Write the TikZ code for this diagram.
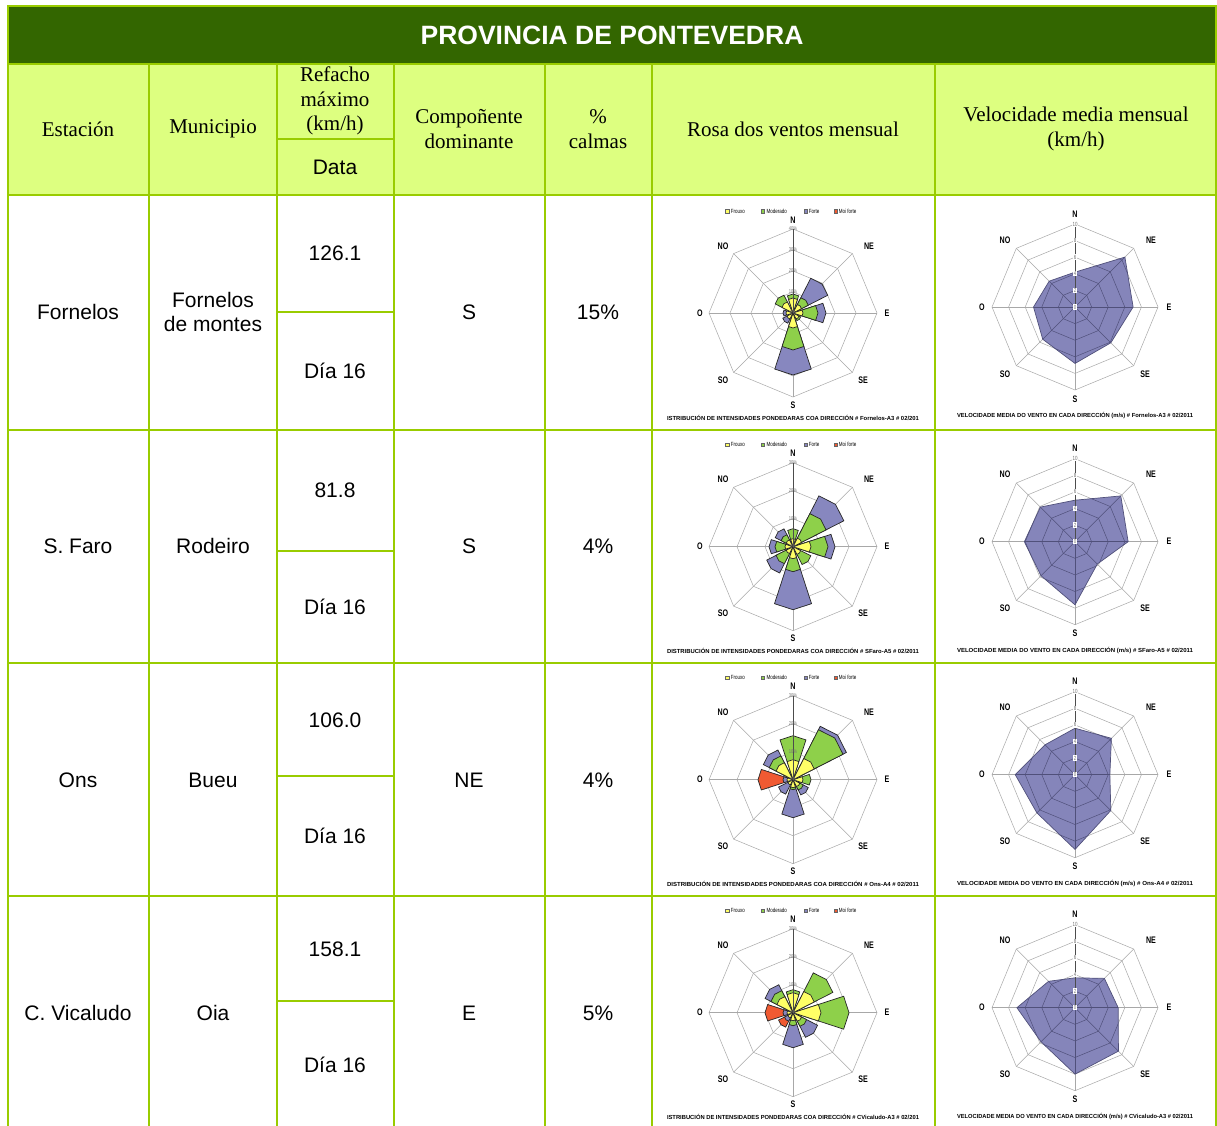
\documentclass[tikz,border=0pt]{standalone}
\usepackage{fontspec}
\usepackage{graphicx}
\setmainfont{Liberation Serif}
\newfontfamily\arial{Liberation Sans}
\definecolor{tblline}{HTML}{99CC00}
\definecolor{hdrdark}{HTML}{336600}
\definecolor{hdrfill}{HTML}{DDFF80}
\definecolor{yelc}{HTML}{FFFF66}
\definecolor{grnc}{HTML}{8ED04A}
\definecolor{purc}{HTML}{8787BF}
\definecolor{redc}{HTML}{F05A32}
\definecolor{polyc}{HTML}{8585BA}
\definecolor{gridc}{HTML}{A8A8A8}
\definecolor{innerc}{HTML}{50507A}
\tikzset{
  rule/.style={draw=tblline,line width=2pt},
  body/.style={font=\arial\fontsize{21}{24}\selectfont,align=center,inner sep=0pt},
  head/.style={font=\fontsize{21}{24.5}\selectfont,align=center,inner sep=0pt},
  gridl/.style={draw=gridc,line width=0.5pt},
  innergrid/.style={draw=innerc,line width=0.5pt},
  wedgeline/.style={draw=black!85,line width=0.7pt},
  dirlab/.style={font=\arial\bfseries\fontsize{9.5}{10}\selectfont,inner sep=0pt},
  ringlab/.style={font=\arial\fontsize{5.5}{6}\selectfont,text=black!55,inner sep=0.3pt},
  vallab/.style={font=\arial\fontsize{6}{6}\selectfont,text=black!55,fill=white,inner sep=0.6pt},
  legtext/.style={font=\arial\fontsize{6}{6}\selectfont,anchor=west,inner sep=0pt},
  chartcap/.style={font=\arial\bfseries,inner sep=0pt},
}
\newcommand\cond[1]{\scalebox{0.75}[1]{#1}}
\newcommand\octagon[2][]{\draw[#1] (0:#2pt) -- (45:#2pt) -- (90:#2pt) -- (135:#2pt) -- (180:#2pt) -- (225:#2pt) -- (270:#2pt) -- (315:#2pt) -- cycle;}
% ---------- wind rose ----------
\newcommand\rosebase[1]{%
  \foreach \k in {1,...,#1}{\pgfmathsetmacro\myR{84*\k/#1}\octagon[gridl]{\myR}}
  \foreach \a in {0,45,...,315}{\draw[gridl] (0,0) -- (\a:84pt);}
}
\newcommand\rosewedge[3]{\filldraw[fill=#3,wedgeline] (0,0) -- ({#1-18}:{#2*0.951pt}) -- (#1:{#2pt}) -- ({#1+18}:{#2*0.951pt}) -- cycle;}
\newcommand\rosedir[5]{%
  \ifdim #5pt>0pt \rosewedge{#1}{#5}{redc}\fi
  \ifdim #4pt>0pt \rosewedge{#1}{#4}{purc}\fi
  \ifdim #3pt>0pt \rosewedge{#1}{#3}{grnc}\fi
  \ifdim #2pt>0pt \rosewedge{#1}{#2}{yelc}\fi}
\newcommand\dirlabels[1]{%
  \node[dirlab] (#1N) at (0,-93) {\cond{N}};
  \node[dirlab] (#1NE) at (76,-67) {\cond{NE}};
  \node[dirlab] (#1E) at (94,0) {\cond{E}};
  \node[dirlab] (#1SE) at (70,67) {\cond{SE}};
  \node[dirlab] (#1S) at (0,92) {\cond{S}};
  \node[dirlab] (#1SO) at (-70,67) {\cond{SO}};
  \node[dirlab] (#1O) at (-93,0) {\cond{O}};
  \node[dirlab] (#1NO) at (-70,-67) {\cond{NO}};
}
\newcommand\roseover[4]{% rings, step, prefix, caption
  \draw[black!70,line width=0.6pt] (0,0) -- (90:84pt);
  \foreach \k in {1,...,#1}{\pgfmathsetmacro\myR{84*\k/#1}\pgfmathtruncatemacro\myP{#2*\k}%
    \node[ringlab] (#3ring\k) at (90:\myR pt) {\cond{\myP\%}};}
  \node[ringlab] (#3ring0) at (0,0) {\cond{0\%}};
  \dirlabels{#3}
  \filldraw[fill=yelc,draw=black!60,line width=0.3pt] (-67.7,-103.7) rectangle ++(3.4,3.4);
  \node[legtext] (#3l1) at (-62.3,-102) {\cond{Frouxo}};
  \filldraw[fill=grnc,draw=black!60,line width=0.3pt] (-32.3,-103.7) rectangle ++(3.4,3.4);
  \node[legtext] (#3l2) at (-26.7,-102) {\cond{Moderado}};
  \filldraw[fill=purc,draw=black!60,line width=0.3pt] (10.7,-103.7) rectangle ++(3.4,3.4);
  \node[legtext] (#3l3) at (15.7,-102) {\cond{Forte}};
  \filldraw[fill=redc,draw=black!60,line width=0.3pt] (40.7,-103.7) rectangle ++(3.4,3.4);
  \node[legtext] (#3l4) at (45.7,-102) {\cond{Moi forte}};
  \node[chartcap] (#3cap) at (0,104.5) {\resizebox{252pt}{5.2pt}{#4}};
}
% ---------- radar ----------
\newcommand\radargrid[1]{%
  \foreach \k in {1,...,5}{\pgfmathsetmacro\myR{16.6*\k}\octagon[#1]{\myR}}
  \foreach \a in {0,45,...,315}{\draw[#1] (0,0) -- (\a:83pt);}
}
\newcommand\radar[8]{%
  \radargrid{gridl}
  \fill[polyc] (90:{#1*8.3pt}) -- (45:{#2*8.3pt}) -- (0:{#3*8.3pt}) -- (-45:{#4*8.3pt}) -- (-90:{#5*8.3pt}) -- (-135:{#6*8.3pt}) -- (180:{#7*8.3pt}) -- (135:{#8*8.3pt}) -- cycle;
  \begin{scope}
    \clip (90:{#1*8.3pt}) -- (45:{#2*8.3pt}) -- (0:{#3*8.3pt}) -- (-45:{#4*8.3pt}) -- (-90:{#5*8.3pt}) -- (-135:{#6*8.3pt}) -- (180:{#7*8.3pt}) -- (135:{#8*8.3pt}) -- cycle;
    \radargrid{innergrid}
  \end{scope}
  \draw[innerc,line width=0.7pt] (90:{#1*8.3pt}) -- (45:{#2*8.3pt}) -- (0:{#3*8.3pt}) -- (-45:{#4*8.3pt}) -- (-90:{#5*8.3pt}) -- (-135:{#6*8.3pt}) -- (180:{#7*8.3pt}) -- (135:{#8*8.3pt}) -- cycle;
  \draw[black!70,line width=0.6pt] (0,0) -- (90:83pt);
}
\newcommand\radarover[2]{%
  \foreach \v in {0,2,4,6,8,10}{\node[vallab] (#1val\v) at (0,-\v*8.3) {\cond{\v}};}
  \dirlabels{#1}
  \node[chartcap] (#1cap) at (0,109) {\resizebox{236pt}{5.2pt}{#2}};
}
\begin{document}
\begin{tikzpicture}[x=1pt,y=-1pt]
\useasboundingbox (0,0) rectangle (1217,1126);
\fill[white] (0,0) rectangle (1217,1126);
\fill[hdrdark] (8,6) rectangle (1216,64);
\fill[hdrfill] (8,64) rectangle (1216,195);

% ----- row 1 charts -----
\begin{scope}[shift={(793,313)}]
  \rosebase{4}
  \rosedir{90}{15}{19}{0}{0}
  \rosedir{45}{10}{18}{41}{0}
  \rosedir{0}{10}{25}{33}{0}
  \rosedir{-45}{7}{9}{0}{0}
  \rosedir{-90}{15}{37}{62}{0}
  \rosedir{-135}{7}{0}{12}{0}
  \rosedir{180}{7}{0}{10}{0}
  \rosedir{135}{13}{21}{0}{0}
  \roseover{4}{10}{ra}{ISTRIBUCIÓN DE INTENSIDADES PONDEDARAS COA DIRECCIÓN \# Fornelos-A3 \# 02/201}
\end{scope}
\begin{scope}[shift={(1075,307)}]
  \radar{4.2}{8.5}{7.0}{6.1}{6.8}{5.5}{5.0}{4.4}
  \radarover{va}{VELOCIDADE MEDIA DO VENTO EN CADA DIRECCIÓN (m/s) \# Fornelos-A3 \# 02/2011}
\end{scope}

% ----- row 2 charts -----
\begin{scope}[shift={(793,546.7)}]
  \rosebase{3}
  \rosedir{90}{8}{18}{0}{0}
  \rosedir{45}{10}{39}{60}{0}
  \rosedir{0}{18}{35}{42}{0}
  \rosedir{-45}{9}{21}{0}{0}
  \rosedir{-90}{12}{25}{63}{0}
  \rosedir{-135}{8}{20}{31}{0}
  \rosedir{180}{8}{18}{24}{0}
  \rosedir{135}{8}{14}{21}{0}
  \roseover{3}{10}{rb}{DISTRIBUCIÓN DE INTENSIDADES PONDEDARAS COA DIRECCIÓN \# SFaro-A5 \# 02/2011}
\end{scope}
\begin{scope}[shift={(1075,541.7)}]
  \radar{5.0}{7.8}{6.4}{3.8}{7.6}{5.8}{6.1}{5.9}
  \radarover{vb}{VELOCIDADE MEDIA DO VENTO EN CADA DIRECCIÓN (m/s) \# SFaro-A5 \# 02/2011}
\end{scope}

% ----- row 3 charts -----
\begin{scope}[shift={(793,779.7)}]
  \rosebase{3}
  \rosedir{90}{20}{44}{0}{0}
  \rosedir{45}{25}{59}{63}{0}
  \rosedir{0}{10}{18}{0}{0}
  \rosedir{-45}{8}{12}{18}{0}
  \rosedir{-90}{8}{10}{38}{0}
  \rosedir{-135}{6}{0}{17}{0}
  \rosedir{180}{6}{0}{10}{35}
  \rosedir{135}{20}{28}{35}{0}
  \roseover{3}{10}{rc}{DISTRIBUCIÓN DE INTENSIDADES PONDEDARAS COA DIRECCIÓN \# Ons-A4 \# 02/2011}
\end{scope}
\begin{scope}[shift={(1075,774.7)}]
  \radar{5.6}{6.2}{4.2}{6.1}{9.0}{6.5}{7.2}{5.1}
  \radarover{vc}{VELOCIDADE MEDIA DO VENTO EN CADA DIRECCIÓN (m/s) \# Ons-A4 \# 02/2011}
\end{scope}

% ----- row 4 charts -----
\begin{scope}[shift={(793,1012.7)}]
  \rosebase{3}
  \rosedir{90}{20}{23}{0}{0}
  \rosedir{45}{25}{47}{0}{0}
  \rosedir{0}{28}{56}{0}{0}
  \rosedir{-45}{10}{16}{29}{0}
  \rosedir{-90}{8}{13}{35}{0}
  \rosedir{-135}{6}{0}{10}{17}
  \rosedir{180}{6}{0}{10}{28}
  \rosedir{135}{19}{26}{33}{0}
  \roseover{3}{10}{rd}{ISTRIBUCIÓN DE INTENSIDADES PONDEDARAS COA DIRECCIÓN \# CVicaludo-A3 \# 02/201}
\end{scope}
\begin{scope}[shift={(1075,1007.7)}]
  \radar{3.6}{5.0}{5.2}{7.4}{8.0}{5.8}{7.0}{4.5}
  \radarover{vd}{VELOCIDADE MEDIA DO VENTO EN CADA DIRECCIÓN (m/s) \# CVicaludo-A3 \# 02/2011}
\end{scope}

% ----- table rules -----
\draw[rule] (8,1126) -- (8,6) -- (1216,6) -- (1216,1126);
\foreach \yy in {64,195,430,663,896} \draw[rule] (8,\yy) -- (1216,\yy);
\foreach \xx in {149,277,394,545,652,935} \draw[rule] (\xx,64) -- (\xx,1126);
\foreach \yy in {139,312,551,776,1001} \draw[rule] (277,\yy) -- (394,\yy);

% ----- texts -----
\node[font=\arial\bfseries\fontsize{26.5}{30}\selectfont,text=white,inner sep=0pt] (title) at (612,35) {PROVINCIA DE PONTEVEDRA};
\node[head] (hEst) at (78,129) {Estación};
\node[head] (hMun) at (213,129) {Municipio};
\node[head] (hRef) at (335,101) {Refacho\\máximo\\(km/h)};
\node[body] (hData) at (335,167) {Data};
\node[head] (hComp) at (469,129) {Compoñente\\dominante};
\node[head] (hCalm) at (598,129) {\%\\calmas};
\node[head] (hRosa) at (793,129) {Rosa dos ventos mensual};
\node[head] (hVel) at (1076,129) {Velocidade media mensual\\(km/h)};

\node[body] (r1est) at (78,312) {Fornelos};
\node[body] (r1mun) at (213,312) {Fornelos\\de montes};
\node[body] (r1max) at (335,253) {126.1};
\node[body] (r1dia) at (335,371) {Día 16};
\node[body] (r1comp) at (469,312) {S};
\node[body] (r1calm) at (598,312) {15\%};

\node[body] (r2est) at (78,546) {S. Faro};
\node[body] (r2mun) at (213,546) {Rodeiro};
\node[body] (r2max) at (335,490) {81.8};
\node[body] (r2dia) at (335,607) {Día 16};
\node[body] (r2comp) at (469,546) {S};
\node[body] (r2calm) at (598,546) {4\%};

\node[body] (r3est) at (78,780) {Ons};
\node[body] (r3mun) at (213,780) {Bueu};
\node[body] (r3max) at (335,720) {106.0};
\node[body] (r3dia) at (335,836) {Día 16};
\node[body] (r3comp) at (469,780) {NE};
\node[body] (r3calm) at (598,780) {4\%};

\node[body] (r4est) at (78,1013) {C. Vicaludo};
\node[body] (r4mun) at (213,1013) {Oia};
\node[body] (r4max) at (335,949) {158.1};
\node[body] (r4dia) at (335,1065) {Día 16};
\node[body] (r4comp) at (469,1013) {E};
\node[body] (r4calm) at (598,1013) {5\%};
\end{tikzpicture}
\end{document}
